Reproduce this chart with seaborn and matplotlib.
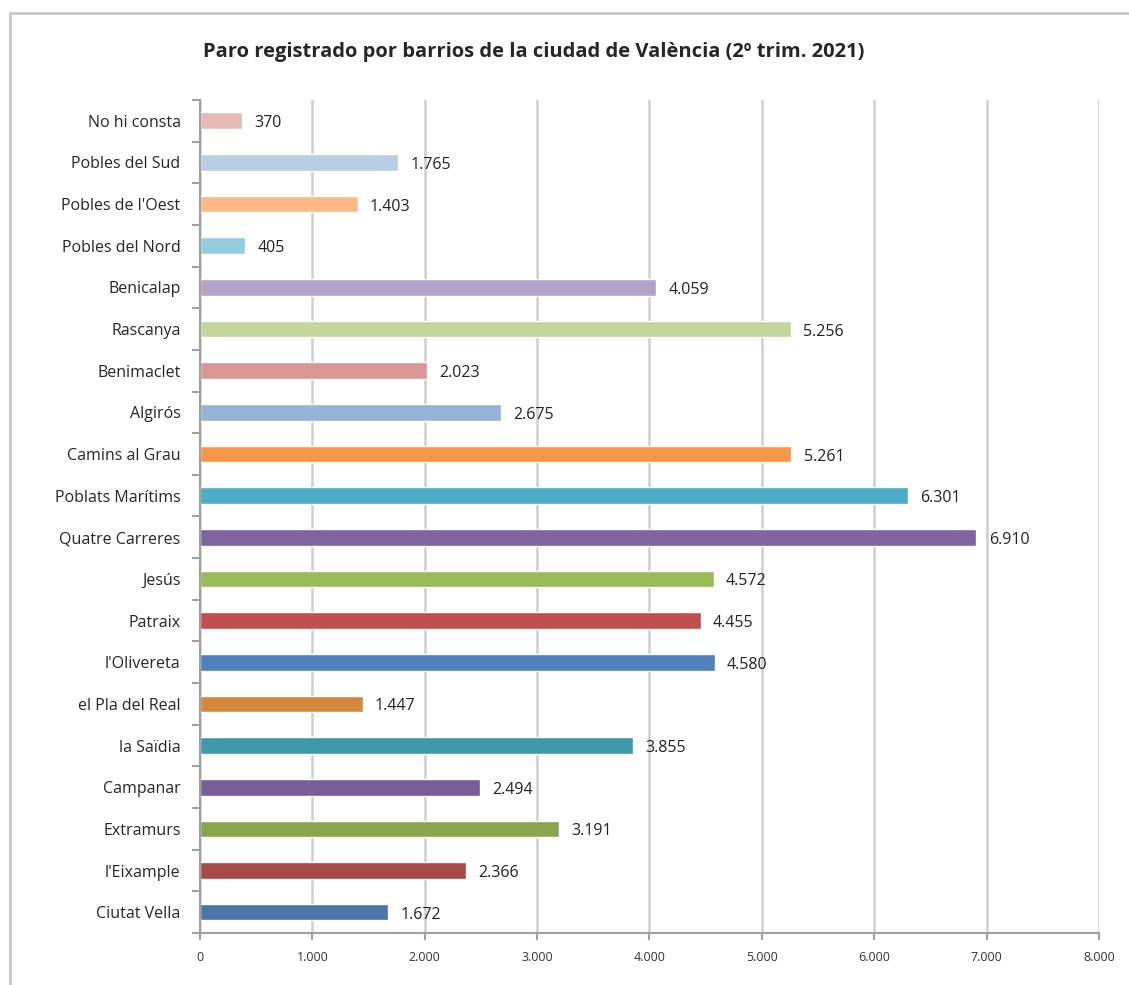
import matplotlib
matplotlib.use('Agg')
import matplotlib.pyplot as plt
import seaborn as sns
import pandas as pd
import numpy as np
from matplotlib.patches import Rectangle

sns.set_style('white')
plt.rcParams['font.family'] = ['Open Sans', 'DejaVu Sans']

# data, top to bottom as in the chart
barrios = ["No hi consta", "Pobles del Sud", "Pobles de l'Oest", "Pobles del Nord",
           "Benicalap", "Rascanya", "Benimaclet", "Algirós", "Camins al Grau",
           "Poblats Marítims", "Quatre Carreres", "Jesús", "Patraix", "l'Olivereta",
           "el Pla del Real", "la Saïdia", "Campanar", "Extramurs", "l'Eixample",
           "Ciutat Vella"]
parados = [370, 1765, 1403, 405, 4059, 5256, 2023, 2675, 5261, 6301, 6910,
           4572, 4455, 4580, 1447, 3855, 2494, 3191, 2366, 1672]
colores = ["#E6B9B8", "#B9CDE5", "#FCB985", "#93CDDD", "#B3A2C7", "#C3D69B",
           "#D99694", "#95B3D7", "#F79646", "#4BACC6", "#8064A2", "#9BBB59",
           "#C0504D", "#4F81BD", "#D4883E", "#3E99AB", "#775E99", "#89A54E",
           "#A94A47", "#4A76A8"]
xticks = [0, 1000, 2000, 3000, 4000, 5000, 6000, 7000, 8000]

df = pd.DataFrame({'barrio': barrios, 'parados': parados})

def fmt(v):
    return '{:,}'.format(v).replace(',', '.')

fig = plt.figure(figsize=(11.29, 9.85), dpi=100)
ax = fig.add_axes([0.1771, 0.0528, 0.7963, 0.8457])

sns.barplot(data=df, y='barrio', x='parados', hue='barrio', palette=colores,
            order=barrios, hue_order=barrios, legend=False, width=0.4,
            saturation=1, ax=ax)

for i, v in enumerate(parados):
    ax.text(v + 110, i + 0.06, fmt(v), va='center', ha='left', fontsize=11.5, color='#222222')

ax.set_xlim(0, 8000)
ax.set_ylim(len(barrios) - 0.5, -0.5)
ax.set_xticks(xticks)
ax.set_xticklabels([fmt(t) for t in xticks], fontsize=9, color='#333333')
ax.tick_params(axis='x', bottom=True, length=5, width=1.5, color='#A0A0A0', pad=8)
ax.tick_params(axis='y', which='major', left=True, length=0, labelsize=11.5, pad=14)
ax.set_yticks(np.arange(-0.5, len(barrios), 1), minor=True)
ax.tick_params(axis='y', which='minor', left=True, length=6, width=1.5, color='#A0A0A0')
ax.set_xlabel('')
ax.set_ylabel('')

ax.grid(axis='x', color='#CFCFCF', linewidth=1.8)
ax.set_axisbelow(True)
for s in ['top', 'right']:
    ax.spines[s].set_visible(False)
for s in ['left', 'bottom']:
    ax.spines[s].set_color('#A0A0A0')
    ax.spines[s].set_linewidth(1.5)

fig.text(0.473, 0.947, 'Paro registrado por barrios de la ciudad de València (2º trim. 2021)',
         ha='center', va='center', fontsize=14.5, fontweight='bold')

fig.patches.append(Rectangle((0.009, -0.01), 1.2, 0.997, transform=fig.transFigure,
                             fill=False, edgecolor='#C8C8C8', linewidth=2))

fig.savefig('out.png', dpi=100)
